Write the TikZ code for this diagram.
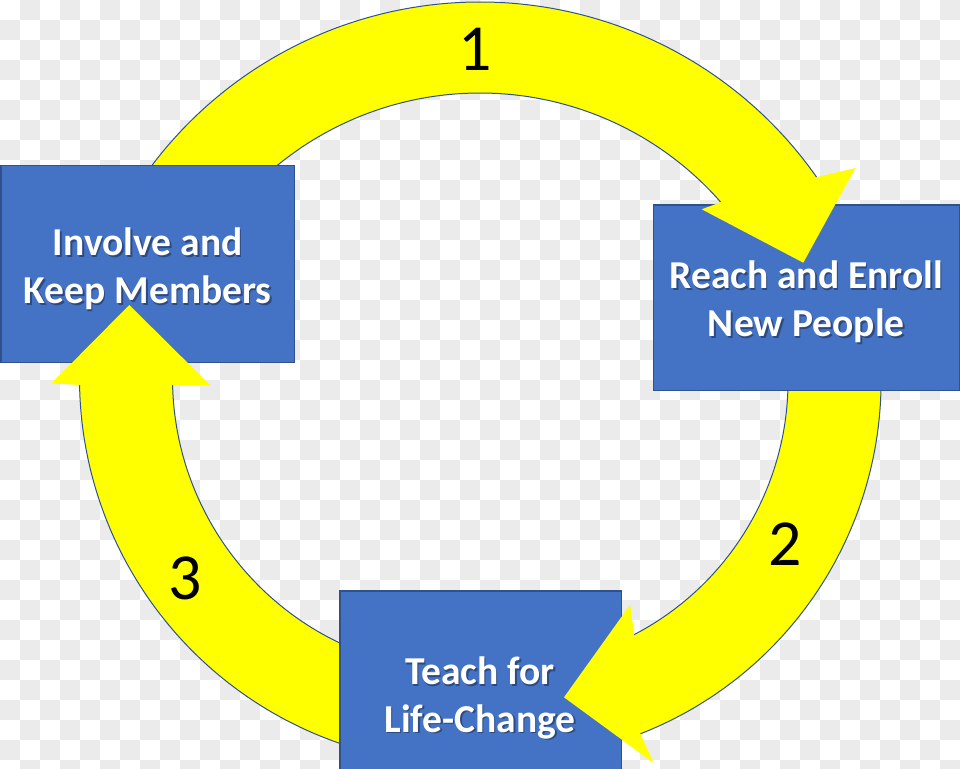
\documentclass[tikz,border=0pt]{standalone}
\usepackage{fontspec}
\setmainfont{Carlito}
\usetikzlibrary{calc}
\definecolor{boxblue}{HTML}{4472C4}
\definecolor{boxedge}{HTML}{2F528F}
\definecolor{arrowyellow}{HTML}{FFFF00}
\definecolor{checkgray}{HTML}{EBEBEB}
\tikzset{
  cyclebox/.style={draw=boxedge, line width=1.2bp, fill=boxblue, inner sep=0pt},
  boxlabel/.style={text=white, font=\bfseries\fontsize{39.7}{48}\selectfont, align=center, inner sep=0pt},
  boxshadow/.style={boxlabel, text=black, opacity=0.35},
  bandfill/.style={fill=arrowyellow},
  bandedge/.style={draw=boxedge, line width=1bp},
  steplabel/.style={font=\fontsize{66}{66}\selectfont, text=black, inner sep=0pt},
}
\begin{document}
\begin{tikzpicture}[x=1bp,y=1bp]
\useasboundingbox (0,0) rectangle (960,-769);
% transparent-style checkerboard background
\fill[white] (0,0) rectangle (960,-769);
\foreach \j in {0,2,...,38} \foreach \i in {1,3,...,47}
  \fill[checkgray] (20*\i,-20*\j) rectangle ++(20,-20);
\foreach \j in {1,3,...,37} \foreach \i in {0,2,...,46}
  \fill[checkgray] (20*\i,-20*\j) rectangle ++(20,-20);

% centres of the three circular arrows
\coordinate (c1) at (480,-413);
\coordinate (c2) at (502,-381);
\coordinate (c3) at (466,-378);

% arrow 1 (top)
\fill[bandfill] ($(c1)+(150:411)$) arc[start angle=150,end angle=35,radius=411]
  -- (855,-168.3) -- (803.3,-262.7) -- (701.7,-209.3)
  -- ($(c1)+(41.2:320)$) arc[start angle=41.2,end angle=150,radius=320] -- cycle;
\draw[bandedge] ($(c1)+(150:411)$) arc[start angle=150,end angle=35,radius=411];
\draw[bandedge] ($(c1)+(41.2:320)$) arc[start angle=41.2,end angle=150,radius=320];

% arrow 2 (right)
\fill[bandfill] ($(c2)+(15:379)$) arc[start angle=15,end angle=-68.6,radius=379]
  -- (653.3,-762.7) -- (564,-697.3) -- (630,-605)
  -- ($(c2)+(-62.5:286)$) arc[start angle=-62.5,end angle=15,radius=286] -- cycle;
\draw[bandedge] ($(c2)+(15:379)$) arc[start angle=15,end angle=-68.6,radius=379];
\draw[bandedge] ($(c2)+(-62.5:286)$) arc[start angle=-62.5,end angle=15,radius=286];

% arrow 3 (left)
\fill[bandfill] ($(c3)+(260:386.5)$) arc[start angle=260,end angle=181,radius=386.5]
  -- (51.7,-383.3) -- (129.3,-305) -- (210,-385)
  -- ($(c3)+(181.4:293.5)$) arc[start angle=181.4,end angle=260,radius=293.5] -- cycle;
\draw[bandedge] ($(c3)+(260:386.5)$) arc[start angle=260,end angle=181,radius=386.5];
\draw[bandedge] ($(c3)+(181.4:293.5)$) arc[start angle=181.4,end angle=260,radius=293.5];

% boxes
\node[cyclebox, minimum width=293.5bp, minimum height=197bp] (involve) at (147.8,-264.2) {};
\node[cyclebox, minimum width=306bp, minimum height=185.7bp] (reach) at (806.3,-297.9) {};
\node[cyclebox, minimum width=281.7bp, minimum height=183bp] (teach) at (480.9,-682.5) {};

% arrow heads lying over the boxes
\fill[bandfill] ($(c1)+(35:411)$) -- (855,-168.3) -- (803.3,-262.7) -- (701.7,-209.3) -- ($(c1)+(41.2:320)$) -- cycle;
\fill[bandfill] ($(c2)+(-68.6:379)$) -- (653.3,-762.7) -- (564,-697.3) -- (630,-605) -- ($(c2)+(-62.5:286)$) -- cycle;
\fill[bandfill] ($(c3)+(181:386.5)$) -- (51.7,-383.3) -- (129.3,-305) -- (210,-385) -- ($(c3)+(181.4:293.5)$) -- cycle;

% box labels with soft shadow
\node[boxshadow] at ($(involve.center)+(1.5,-6.3)$) {Involve and\\Keep Members};
\node[boxlabel] (involvetext) at ($(involve.center)+(0,-4.8)$) {Involve and\\Keep Members};
\node[boxshadow] at ($(reach.center)+(1.5,-5.6)$) {Reach and Enroll\\New People};
\node[boxlabel] (reachtext) at ($(reach.center)+(0,-4.1)$) {Reach and Enroll\\New People};
\node[boxshadow] at (481.5,-699.5) {Teach for\\Life-Change};
\node[boxlabel] (teachtext) at (480,-698) {Teach for\\Life-Change};

% step numbers
\node[steplabel] (n1) at (475,-49) {1};
\node[steplabel] (n2) at (785,-544) {2};
\node[steplabel] (n3) at (185,-578) {3};
\end{tikzpicture}
\end{document}
